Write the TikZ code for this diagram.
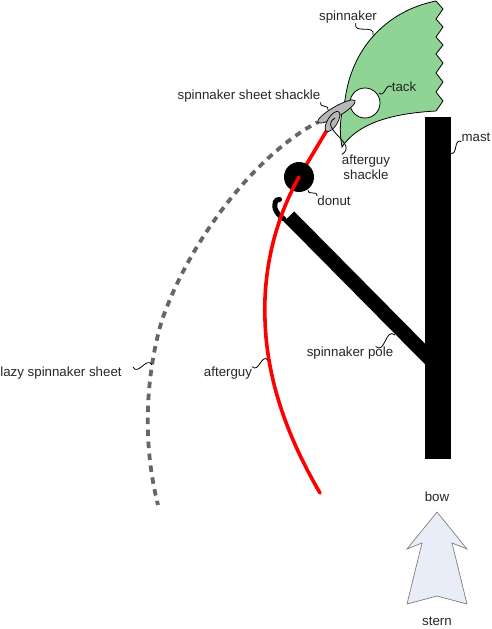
\documentclass[tikz,border=0pt]{standalone}
\usepackage{fontspec}
\setmainfont{Liberation Sans}
\usepackage{xcolor}
\usetikzlibrary{calc,positioning,shapes.geometric}
\definecolor{sailgreen}{HTML}{8FD494}
\definecolor{shacklegray}{HTML}{B7B7B7}
\definecolor{sheetgray}{HTML}{666666}
\definecolor{arrowfill}{HTML}{E8EDF7}
\tikzset{lbl/.style={inner sep=0pt,font=\fontsize{13.3}{15}\selectfont,text=black!85,align=center},
  shackle/.style={draw=black,line width=0.7pt,fill=shacklegray,ellipse,inner sep=0pt},
  lead/.style={draw=black,line width=0.8pt},
  rope/.style={draw=red,line width=3.6pt,line cap=round},
  spar/.style={draw=none,fill=black,inner sep=0pt}}
\newcommand{\squig}[2]{\draw[lead] (#1) .. controls ($(#1)!.55!-70:(#2)$) and ($(#2)!.55!-70:(#1)$) .. (#2);}

\begin{document}
\begin{tikzpicture}[x=1pt,y=-1pt]
\useasboundingbox (0,0) rectangle (491,629);
% sail
\draw[fill=sailgreen,line width=0.8pt] (436,1)--(443,9)--(436,19)--(443,27)--(436,37)--(443,45)--(436,54)--(443,63)--(436,73)--(443,82)--(436,92)--(443,101)--(436,111)
  .. controls (400,113) and (360,120) .. (342,147) .. controls (339,130) and (340,118) .. (345,100)
  .. controls (352,45) and (390,10) .. (436,1)--cycle;
\node[draw=black,line width=0.8pt,fill=white,circle,minimum size=30pt,inner sep=0pt] (tack) at (365,103){};
% lines
\draw[draw=sheetgray,line width=3.8pt,dash pattern=on 6.5pt off 5.5pt,dash phase=4pt] (318,122) .. controls (255,155) and (190,240) .. (162,320)
  .. controls (150,360) and (139,430) .. (158,505);
\coordinate (guyTop) at (327,130);
\draw[rope,line cap=butt] (guyTop)--(299,177);
\node[spar,circle,minimum size=30pt] (donut) at (299,177){};
% pole and mast
\coordinate (poleEnd) at (289,216.5);
\coordinate (poleFoot) at (430,359);
\draw[line width=14.5pt] (poleEnd)--(poleFoot);
\draw[line width=5pt,line cap=round] (279.5,199.5) .. controls (275,199) and (274.5,204) .. (275,208) .. controls (276,212) and (279,216) .. (284,219);
\node[spar,minimum width=26pt,minimum height=342pt] (mast) at (437.5,288){};
\draw[rope] (donut.center) .. controls (275,220) and (263,270) .. (265,320) .. controls (267,390) and (295,450) .. (320,493);
% shackles
\node[shackle,rotate=30,minimum width=43pt,minimum height=10pt] (sheetShackle) at (336.5,111.5){};
\node[shackle,rotate=58,minimum width=23pt,minimum height=10pt] (guyShackle) at (332.5,121.5){};
% arrow
\draw[draw=black!50,fill=arrowfill,line width=0.7pt] (437,512)--(467,549)--(452,543)--(467,604)--(437,596)--(407,604)--(422,543)--(407,549)--cycle;
\node[lbl] (bow) at (437,497){bow};
\node[lbl] (stern) at (437,621){stern};
% labels
\node[lbl] (spinLbl) at (348,17){spinnaker};
\node[lbl] (tackLbl) at (404,87){tack};
\node[lbl] (sheetShackleLbl) at (249,96){spinnaker sheet shackle};
\node[lbl] (guyShackleLbl) at (366,167){afterguy\\shackle};
\node[lbl] (donutLbl) at (334,201){donut};
\node[lbl] (mastLbl) at (476,137){mast};
\node[lbl] (poleLbl) at (350,353){spinnaker pole};
\node[lbl] (guyLbl) at (228,373){afterguy};
\node[lbl] (lazyLbl) at (61,373){lazy spinnaker sheet};
% leaders
\coordinate (spinEnd) at (373,35);
\coordinate (tackEnd) at (379,93);
\coordinate (sheetEnd) at (328,110);
\coordinate (guyShEnd) at (335,118);
\coordinate (donutEnd) at (308,190);
\coordinate (mastEnd) at (450,153);
\coordinate (poleEndLead) at (395,335);
\coordinate (guyEnd) at (268,360);
\coordinate (lazyStart) at (133,367);
\coordinate (lazyEnd) at (152,365);
\squig{spinLbl.-40}{spinEnd}
\squig{tackEnd}{tackLbl.west}
\squig{sheetShackleLbl.south east}{sheetEnd}
\squig{guyShEnd}{guyShackleLbl.north west}
\squig{donutEnd}{donutLbl.north west}
\squig{mastEnd}{mastLbl.south west}
\squig{poleLbl.14}{poleEndLead}
\squig{guyLbl.north east}{guyEnd}
\squig{lazyStart}{lazyEnd}
\end{tikzpicture}
\end{document}
